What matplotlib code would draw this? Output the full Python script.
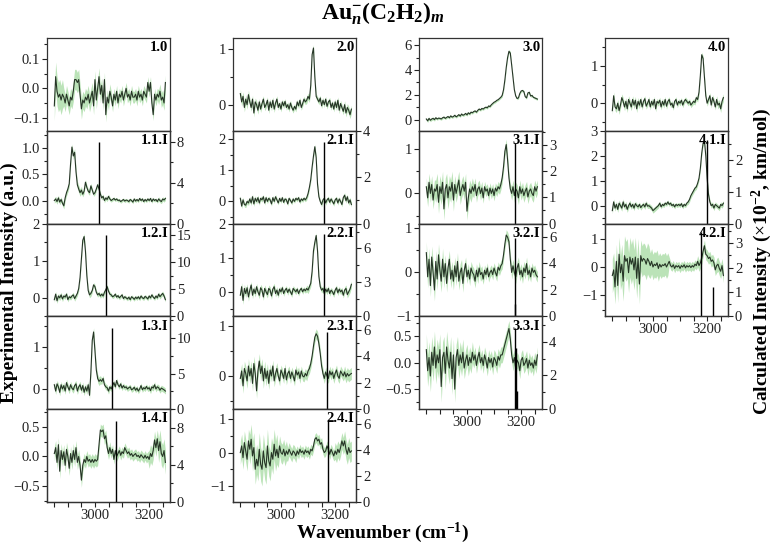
import numpy as np
import matplotlib.pyplot as plt
from matplotlib.ticker import MultipleLocator

plt.rcParams['font.family'] = 'Liberation Serif'
plt.rcParams['mathtext.fontset'] = 'custom'
plt.rcParams['mathtext.rm'] = 'Liberation Serif'
plt.rcParams['mathtext.bf'] = 'Liberation Serif:bold'
plt.rcParams['mathtext.it'] = 'Liberation Serif:italic:bold'

# wavenumber grid of the measured spectra (cm-1)
wn = np.arange(2850, 3261, 5)

# experimental spectra (mean) and error band half-widths (one value per 35 cm-1 segment)
s10 = [-0.06, 0.04, -0.01, -0.03, -0.02, -0.04, -0.02,
       -0.03, -0.05, -0.02, -0.04, -0.06, -0.03, -0.04,
       -0.01, 0.03, 0.03, 0.02, 0.03, -0.02, -0.07,
       -0.04, -0.05, -0.03, -0.04, -0.02, -0.05, -0.03,
       -0.01, -0.06, 0.03, -0.04, 0.00, 0.04, -0.02,
       0.01, -0.05, 0.03, -0.09, -0.03, -0.05, -0.01,
       -0.03, -0.06, -0.02, -0.04, -0.01, -0.05, -0.02,
       -0.03, -0.01, -0.04, -0.02, 0.00, -0.03, -0.02,
       -0.04, -0.01, -0.03, -0.03, -0.02, -0.04, -0.01,
       -0.03, -0.02, -0.04, -0.01, -0.02, -0.03, 0.02,
       -0.01, 0.02, -0.05, -0.09, -0.02, -0.04, -0.02,
       -0.03, -0.01, -0.04, -0.03, -0.05, 0.02]
e10 = [0.05, 0.03, 0.035, 0.03, 0.03, 0.025, 0.02, 0.02, 0.02, 0.02, 0.02, 0.025]

s11 = [0.00, 0.03, -0.02, 0.05, -0.03, 0.02, -0.05,
       -0.10, 0.05, 0.15, 0.22, 0.32, 0.70, 1.02,
       0.85, 0.92, 0.55, 0.30, 0.22, 0.15, 0.20,
       0.12, 0.18, 0.35, 0.25, 0.18, 0.15, 0.28,
       0.20, 0.12, 0.15, 0.22, 0.30, 0.22, 0.12,
       0.05, 0.08, 0.00, 0.05, 0.02, 0.08, 0.03,
       0.00, 0.02, 0.04, 0.01, 0.03, 0.00, 0.01,
       -0.02, 0.00, 0.02, -0.01, 0.01, 0.00, -0.02,
       0.02, 0.00, -0.03, 0.03, -0.01, 0.02, -0.01,
       0.04, 0.00, 0.03, -0.02, 0.02, -0.01, 0.03,
       0.00, 0.04, -0.02, 0.03, 0.00, 0.02, -0.02,
       0.03, 0.00, -0.02, 0.03, 0.01, 0.04]
e11 = [0.05, 0.06, 0.07, 0.05, 0.04, 0.04, 0.03, 0.03, 0.03, 0.03, 0.03, 0.04]

s12 = [-0.05, 0.10, -0.08, 0.05, 0.00, 0.08, -0.03,
       0.05, 0.02, 0.10, -0.05, 0.03, 0.00, 0.05,
       0.08, -0.02, 0.05, 0.12, 0.25, 0.55, 1.05,
       1.55, 1.65, 1.25, 0.60, 0.20, 0.08, 0.12,
       0.20, 0.35, 0.30, 0.15, 0.08, 0.12, 0.05,
       0.10, 0.05, 0.15, 0.22, 0.30, 0.18, 0.10,
       0.08, 0.03, 0.05, 0.10, 0.02, 0.06, 0.00,
       0.04, 0.08, -0.02, 0.03, 0.00, -0.03, 0.02,
       -0.05, 0.03, 0.00, -0.04, 0.02, -0.02, 0.03,
       -0.03, 0.05, 0.00, -0.02, 0.04, 0.01, -0.03,
       0.05, 0.00, 0.08, 0.02, -0.02, 0.05, 0.00,
       0.10, 0.03, 0.08, 0.12, 0.05, -0.05]
e12 = [0.07, 0.06, 0.07, 0.08, 0.06, 0.06, 0.05, 0.05, 0.05, 0.05, 0.05, 0.06]

s13 = [0.10, -0.05, 0.12, 0.05, -0.08, 0.10, 0.00,
       0.08, -0.05, 0.15, 0.05, -0.03, 0.10, 0.02,
       -0.02, 0.08, 0.12, -0.05, 0.05, 0.10, -0.03,
       0.08, -0.08, 0.05, -0.05, 0.10, -0.15, 0.40,
       1.15, 1.35, 0.90, 0.45, 0.25, 0.18, 0.22,
       0.18, 0.25, 0.10, 0.05, 0.03, -0.05, 0.05,
       0.00, 0.08, 0.15, 0.05, 0.20, 0.10, 0.05,
       0.12, 0.02, 0.08, 0.03, 0.05, 0.00, 0.03,
       0.05, -0.02, 0.00, 0.04, -0.03, 0.02, -0.05,
       0.00, 0.08, -0.02, 0.03, 0.00, 0.06, 0.00,
       0.03, -0.04, 0.05, 0.02, 0.10, 0.00, 0.05,
       0.03, -0.03, 0.02, 0.00, -0.02, -0.05]
e13 = [0.08, 0.08, 0.08, 0.08, 0.10, 0.07, 0.06, 0.06, 0.06, 0.06, 0.07, 0.07]

s14 = [0.05, 0.15, -0.10, 0.20, -0.25, 0.10, -0.05,
       0.08, -0.15, 0.12, 0.00, -0.20, 0.05, -0.10,
       0.10, -0.05, 0.15, -0.10, 0.00, -0.15, -0.40,
       -0.15, -0.05, -0.10, 0.00, -0.08, -0.05, -0.10,
       -0.05, -0.10, -0.05, -0.08, -0.05, 0.20, 0.45,
       0.42, 0.45, 0.30, 0.35, 0.15, 0.05, 0.15,
       0.05, 0.12, -0.05, 0.10, 0.00, 0.05, 0.10,
       0.02, 0.08, 0.05, 0.15, 0.10, 0.05, 0.08,
       0.02, 0.05, 0.00, 0.03, 0.05, 0.00, 0.02,
       -0.02, 0.03, 0.00, -0.03, 0.02, -0.03, 0.00,
       -0.05, 0.05, 0.00, 0.10, 0.28, 0.15, 0.30,
       0.10, 0.25, 0.05, 0.00, 0.10, -0.10]
e14 = [0.12, 0.12, 0.12, 0.10, 0.10, 0.10, 0.08, 0.08, 0.08, 0.08, 0.15, 0.20]

s20 = [0.20, 0.05, 0.15, -0.05, 0.10, 0.00, 0.18,
       0.05, -0.05, 0.10, -0.15, 0.05, 0.00, -0.10,
       0.05, -0.08, 0.02, 0.10, -0.05, 0.00, 0.08,
       -0.10, 0.05, -0.05, 0.08, -0.08, 0.03, 0.10,
       -0.05, 0.02, -0.08, 0.05, -0.02, 0.06, -0.05,
       0.00, -0.08, 0.03, -0.05, -0.10, -0.03, -0.08,
       0.05, -0.02, 0.08, -0.05, 0.02, 0.10, 0.05,
       0.08, 0.15, 0.10, 0.35, 0.90, 1.02, 0.50,
       0.15, 0.10, 0.05, 0.12, -0.02, 0.08, 0.00,
       0.10, -0.03, 0.05, 0.08, -0.05, 0.03, -0.08,
       0.05, -0.05, 0.08, -0.10, 0.02, -0.05, -0.12,
       0.00, -0.15, -0.05, -0.10, -0.18, -0.08]
e20 = [0.08, 0.07, 0.06, 0.06, 0.05, 0.05, 0.05, 0.06, 0.05, 0.05, 0.06, 0.07]

s21 = [0.10, -0.15, 0.05, -0.10, -0.12, 0.00, -0.05,
       0.08, -0.05, 0.15, -0.08, 0.10, 0.00, 0.12,
       -0.05, 0.10, 0.05, 0.15, -0.05, 0.12, 0.00,
       0.10, 0.05, -0.08, 0.12, 0.00, 0.15, 0.05,
       -0.05, 0.10, 0.00, 0.12, -0.03, 0.08, 0.05,
       -0.08, 0.10, 0.03, -0.05, 0.08, 0.00, 0.10,
       0.05, 0.12, -0.02, 0.08, 0.03, 0.10, 0.05,
       0.12, 0.25, 0.45, 0.70, 1.10, 1.45, 1.75,
       1.40, 0.55, 0.15, 0.00, -0.10, 0.05, 0.10,
       -0.05, 0.05, 0.10, -0.03, 0.08, 0.00, -0.08,
       0.05, 0.10, -0.05, 0.08, 0.00, -0.10, 0.12,
       0.20, 0.02, 0.15, -0.05, 0.05, -0.10]
e21 = [0.08, 0.08, 0.07, 0.07, 0.06, 0.06, 0.06, 0.08, 0.07, 0.07, 0.07, 0.08]

s22 = [-0.10, 0.15, -0.25, 0.10, -0.05, 0.12, -0.15,
       0.05, 0.20, -0.10, 0.08, -0.05, 0.15, 0.00,
       -0.10, 0.12, 0.05, -0.15, 0.10, 0.00, -0.08,
       0.10, 0.05, -0.12, 0.08, 0.15, -0.05, 0.05,
       -0.10, 0.08, 0.00, 0.12, -0.05, 0.05, 0.10,
       -0.02, 0.08, 0.00, -0.08, 0.10, 0.05, 0.00,
       0.08, -0.05, 0.05, 0.10, 0.00, 0.08, 0.03,
       0.10, 0.05, 0.15, 0.25, 0.60, 1.20, 1.45,
       1.65, 1.20, 0.45, 0.15, 0.05, 0.10, -0.05,
       0.08, 0.00, 0.10, -0.05, 0.05, 0.00, -0.08,
       0.05, 0.12, -0.03, 0.08, 0.00, 0.05, -0.10,
       0.05, 0.10, -0.08, 0.00, 0.08, 0.22]
e22 = [0.12, 0.10, 0.10, 0.10, 0.08, 0.08, 0.07, 0.10, 0.08, 0.08, 0.08, 0.10]

s23 = [-0.05, 0.10, -0.20, 0.15, 0.05, -0.10, 0.20,
       0.00, 0.15, -0.15, 0.25, 0.05, -0.30, 0.10,
       0.30, 0.05, 0.20, -0.10, 0.15, -0.05, 0.10,
       -0.15, 0.12, 0.00, 0.20, -0.10, 0.05, 0.15,
       0.00, -0.10, 0.12, 0.05, -0.05, 0.15, -0.08,
       0.05, 0.10, -0.05, 0.08, 0.00, -0.10, 0.12,
       0.02, 0.08, -0.05, 0.10, 0.00, -0.02, 0.05,
       0.00, 0.10, 0.15, 0.25, 0.40, 0.60, 0.78,
       0.85, 0.80, 0.65, 0.45, 0.20, 0.05, -0.05,
       0.08, 0.00, -0.05, 0.10, 0.02, 0.08, -0.05,
       0.05, 0.12, 0.00, -0.05, 0.10, 0.05, 0.00,
       0.08, -0.02, 0.05, 0.00, 0.03, 0.05]
e23 = [0.15, 0.15, 0.15, 0.12, 0.10, 0.10, 0.10, 0.10, 0.10, 0.10, 0.10, 0.12]

s24 = [0.00, 0.20, -0.15, 0.30, 0.05, -0.20, 0.35,
       0.10, 0.40, -0.10, 0.15, -0.50, -0.20, -0.40,
       0.10, -0.35, -0.50, 0.05, -0.30, -0.45, 0.20,
       -0.25, -0.40, 0.00, -0.20, 0.25, -0.10, 0.10,
       -0.15, 0.20, 0.00, -0.05, 0.10, -0.10, 0.05,
       -0.05, 0.10, 0.00, -0.08, 0.05, 0.00, -0.10,
       0.05, -0.05, 0.10, 0.00, 0.05, -0.05, 0.08,
       0.00, 0.05, -0.05, 0.10, 0.05, 0.20, 0.40,
       0.45, 0.35, 0.40, 0.25, 0.30, 0.10, 0.00,
       0.05, 0.20, 0.10, -0.05, 0.10, 0.00, -0.10,
       0.05, -0.05, 0.10, 0.00, 0.15, 0.35, 0.20,
       0.35, 0.10, -0.05, 0.15, 0.00, 0.05]
e24 = [0.35, 0.45, 0.50, 0.45, 0.30, 0.20, 0.15, 0.15, 0.15, 0.15, 0.25, 0.30]

s30 = [0.05, -0.10, 0.10, -0.05, 0.05, 0.10, 0.00,
       0.15, 0.05, 0.12, 0.10, 0.05, 0.15, 0.20,
       0.10, 0.18, 0.25, 0.15, 0.30, 0.20, 0.25,
       0.35, 0.22, 0.30, 0.40, 0.28, 0.45, 0.35,
       0.40, 0.50, 0.38, 0.55, 0.45, 0.60, 0.55,
       0.65, 0.70, 0.60, 0.75, 0.85, 0.78, 0.90,
       0.85, 0.95, 1.00, 0.95, 1.10, 1.05, 1.20,
       1.30, 1.40, 1.45, 1.55, 1.60, 1.70, 1.80,
       1.95, 2.40, 3.20, 4.20, 5.00, 5.50, 5.35,
       4.40, 3.40, 2.40, 1.90, 1.70, 1.75, 2.10,
       2.30, 2.35, 2.25, 1.85, 1.75, 2.15, 2.20,
       1.90, 1.95, 1.80, 1.75, 1.70, 1.65]
e30 = [0.12, 0.10, 0.10, 0.10, 0.10, 0.10, 0.10, 0.10, 0.15, 0.10, 0.10, 0.10]

s31 = [0.15, -0.10, 0.25, 0.00, 0.20, -0.15, 0.10,
       0.05, 0.20, -0.20, 0.15, 0.00, 0.25, -0.35,
       0.10, 0.20, -0.10, 0.15, 0.05, 0.25, -0.15,
       0.20, 0.00, 0.15, 0.30, -0.05, 0.10, 0.20,
       0.05, 0.25, -0.40, -0.10, 0.10, 0.00, 0.15,
       0.05, 0.20, -0.05, 0.10, 0.15, 0.00, 0.12,
       -0.10, 0.15, 0.05, 0.10, -0.05, 0.12, 0.00,
       0.10, -0.05, 0.12, 0.05, 0.15, 0.10, 0.20,
       0.35, 0.60, 0.95, 1.10, 0.75, 0.35, 0.10,
       0.00, 0.15, -0.05, 0.10, 0.05, -0.10, 0.15,
       0.00, 0.10, -0.05, 0.05, 0.12, -0.08, 0.05,
       0.10, 0.00, -0.05, 0.15, 0.05, 0.15]
e31 = [0.20, 0.25, 0.25, 0.20, 0.20, 0.15, 0.12, 0.12, 0.12, 0.15, 0.15, 0.15]

s32 = [0.45, -0.10, 0.30, -0.30, 0.35, 0.00, -0.40,
       0.25, -0.15, 0.40, 0.05, -0.20, 0.30, -0.10,
       0.20, -0.25, 0.10, 0.30, -0.15, 0.05, -0.20,
       0.15, -0.10, 0.25, -0.20, 0.00, 0.10, -0.25,
       0.05, 0.20, -0.10, 0.05, -0.15, 0.10, 0.00,
       -0.05, -0.20, 0.05, -0.10, 0.10, -0.05, 0.00,
       -0.15, 0.05, -0.05, 0.10, -0.10, 0.00, 0.05,
       -0.05, 0.10, 0.00, -0.08, 0.12, 0.05, 0.15,
       0.20, 0.40, 0.65, 0.85, 0.80, 0.70, 0.30,
       0.00, 0.15, 0.00, -0.10, 0.10, 0.20, -0.05,
       0.05, -0.10, 0.10, 0.00, 0.20, -0.05, 0.05,
       -0.10, 0.10, 0.00, 0.05, -0.05, -0.10]
e32 = [0.25, 0.25, 0.20, 0.20, 0.15, 0.15, 0.12, 0.12, 0.12, 0.15, 0.15, 0.12]

s33 = [0.25, -0.15, 0.10, -0.25, 0.20, -0.05, 0.30,
       -0.10, 0.15, 0.00, 0.25, -0.45, 0.10, 0.20,
       -0.20, 0.30, 0.05, -0.10, 0.20, -0.30, 0.15,
       -0.50, 0.10, 0.25, -0.05, 0.15, 0.00, 0.20,
       -0.10, 0.05, 0.15, -0.05, 0.10, 0.00, 0.20,
       0.05, 0.15, -0.05, 0.10, 0.20, 0.00, 0.10,
       -0.05, 0.15, 0.05, -0.10, 0.10, 0.00, 0.08,
       -0.08, 0.10, 0.05, -0.05, 0.12, 0.05, 0.15,
       0.15, 0.25, 0.35, 0.45, 0.55, 0.65, 0.45,
       0.15, 0.00, 0.10, -0.10, 0.05, 0.00, -0.15,
       0.05, 0.10, -0.05, 0.00, 0.08, -0.10, 0.05,
       -0.05, 0.00, -0.10, 0.05, -0.05, 0.15]
e33 = [0.30, 0.30, 0.30, 0.25, 0.20, 0.15, 0.15, 0.15, 0.15, 0.15, 0.15, 0.15]

s40 = [-0.20, 0.20, -0.10, -0.15, 0.00, -0.20, -0.05,
       0.15, 0.05, -0.10, 0.05, -0.15, 0.10, 0.00,
       -0.10, 0.10, -0.05, 0.08, -0.15, 0.05, -0.05,
       0.10, -0.10, 0.05, 0.12, -0.08, 0.00, 0.10,
       -0.10, 0.05, -0.05, 0.10, -0.15, 0.05, 0.00,
       0.08, -0.10, 0.05, -0.05, 0.10, -0.08, 0.05,
       0.10, -0.05, 0.00, -0.12, 0.05, 0.10, -0.05,
       0.05, 0.00, 0.08, -0.05, 0.05, 0.10, 0.05,
       0.00, 0.05, -0.05, 0.00, 0.05, 0.02, 0.15,
       0.10, 0.30, 0.75, 1.30, 1.20, 0.70, 0.20,
       0.00, 0.10, 0.20, -0.05, 0.15, 0.05, -0.10,
       0.10, -0.05, 0.00, -0.15, 0.05, 0.15]
e40 = [0.10, 0.10, 0.10, 0.08, 0.08, 0.08, 0.07, 0.07, 0.07, 0.07, 0.08, 0.10]

s41 = [-0.20, 0.15, -0.10, 0.05, -0.15, 0.10, 0.00,
       -0.10, 0.15, -0.05, 0.05, -0.15, 0.00, 0.10,
       -0.05, 0.05, -0.10, 0.08, 0.00, -0.05, 0.05,
       -0.08, 0.00, 0.05, -0.05, 0.10, -0.02, 0.00,
       -0.05, -0.10, -0.20, -0.15, -0.10, -0.05, 0.00,
       0.10, -0.05, 0.05, 0.00, 0.10, 0.05, 0.15,
       0.05, 0.10, 0.00, 0.05, -0.05, 0.05, 0.00,
       0.05, 0.00, 0.08, -0.05, 0.05, 0.00, 0.10,
       0.15, 0.25, 0.40, 0.50, 0.60, 0.70, 0.75,
       0.90, 1.10, 1.50, 2.10, 2.50, 2.60, 2.00,
       1.10, 0.45, 0.15, 0.00, 0.05, -0.10, 0.05,
       0.00, -0.05, -0.10, 0.05, 0.00, 0.10]
e41 = [0.12, 0.12, 0.10, 0.10, 0.10, 0.08, 0.08, 0.08, 0.10, 0.10, 0.10, 0.10]

s42 = [-0.30, -0.10, -0.70, 0.20, -0.65, 0.45, -0.20,
       0.10, -0.50, 0.40, 0.20, 0.30, -0.20, 0.35,
       0.10, 0.30, -0.10, 0.35, -0.40, 0.30, -0.60,
       0.40, 0.20, 0.30, 0.25, 0.10, 0.30, 0.20,
       0.05, 0.20, 0.00, 0.10, 0.05, 0.15, -0.05,
       0.10, 0.00, 0.08, 0.05, 0.12, 0.00, 0.10,
       0.20, 0.05, 0.00, 0.08, -0.05, 0.05, 0.00,
       0.05, -0.05, 0.05, 0.00, 0.08, -0.03, 0.05,
       0.00, 0.05, -0.02, 0.05, 0.00, 0.10, 0.05,
       0.20, 0.05, 0.15, 0.30, 0.55, 0.75, 0.45,
       0.40, 0.30, 0.35, 0.20, 0.25, 0.15, -0.10,
       0.05, 0.10, -0.05, -0.15, 0.05, -0.30]
e42 = [0.60, 0.70, 0.70, 0.55, 0.45, 0.40, 0.15, 0.15, 0.15, 0.20, 0.20, 0.25]

# calculated stick spectra: positions (cm-1) and intensities (x10^-2 km/mol)
k11_pos, k11_int = [3015], [8.0]
k12_pos, k12_int = [3042], [15.0]
k13_pos, k13_int = [3063], [11.4]
k14_pos, k14_int = [3079], [8.75]
k21_pos, k21_int = [3158], [3.5]
k22_pos, k22_int = [3160], [7.3]
k23_pos, k23_int = [3169], [5.8]
k24_pos, k24_int = [3175], [6.3]
k31_pos, k31_int = [3177], [3.07]
k32_pos, k32_int = [3177, 3179], [5.9, 0.9]
k33_pos, k33_int = [3179, 3182, 3184], [4.8, 3.6, 1.1]
k41_pos, k41_int = [3198], [2.6]
k42_pos, k42_int = [3178, 3221], [3.44, 1.2]

# col, row, label, spectrum, error, ylim, yticks, yminor, sticks, right ylim, right ticks, right minor
panels = [
    (0, 0, '1.0', s10, e10, (-0.145, 0.172), [-0.1, 0, 0.1], 0.05, None, None, None, None),
    (0, 1, '1.1.I', s11, e11, (-0.44, 1.33), [0, 0.5, 1.0], 0.25, (k11_pos, k11_int), (0, 9.1), [0, 4, 8], 2),
    (0, 2, '1.2.I', s12, e12, (-0.5, 2.0), [0, 1, 2], 0.5, (k12_pos, k12_int), (0, 17.2), [0, 5, 10, 15], 2.5),
    (0, 3, '1.3.I', s13, e13, (-0.48, 1.72), [0, 1], 0.5, (k13_pos, k13_int), (0, 13), [0, 5, 10], 2.5),
    (0, 4, '1.4.I', s14, e14, (-0.77, 0.8), [-0.5, 0, 0.5], 0.25, (k14_pos, k14_int), (0, 10), [0, 4, 8], 2),
    (1, 0, '2.0', s20, e20, (-0.47, 1.2), [0, 1], 0.5, None, None, None, None),
    (1, 1, '2.1.I', s21, e21, (-0.71, 2.26), [0, 1, 2], 0.5, (k21_pos, k21_int), (0, 4), [0, 2, 4], 1),
    (1, 2, '2.2.I', s22, e22, (-0.72, 2.0), [0, 1, 2], 0.5, (k22_pos, k22_int), (0, 8.2), [0, 3, 6], 1.5),
    (1, 3, '2.3.I', s23, e23, (-0.67, 1.2), [0, 1], 0.5, (k23_pos, k23_int), (0, 7), [0, 2, 4, 6], 1),
    (1, 4, '2.4.I', s24, e24, (-1.48, 1.3), [-1, 0, 1], 0.5, (k24_pos, k24_int), (0, 7.15), [0, 2, 4, 6], 1),
    (2, 0, '3.0', s30, e30, (-0.9, 6.57), [0, 2, 4, 6], 1, None, None, None, None),
    (2, 1, '3.1.I', s31, e31, (-0.68, 1.41), [0, 1], 0.5, (k31_pos, k31_int), (0, 3.54), [0, 1, 2, 3], 0.5),
    (2, 2, '3.2.I', s32, e32, (-1.0, 1.11), [-1, 0, 1], 0.5, (k32_pos, k32_int), (0, 7.0), [0, 2, 4, 6], 1),
    (2, 3, '3.3.I', s33, e33, (-0.88, 0.88), [-0.5, 0, 0.5], 0.25, (k33_pos, k33_int), (0, 5.5), [0, 2, 4], 1),
    (3, 0, '4.0', s40, e40, (-0.74, 1.75), [0, 1], 0.5, None, None, None, None),
    (3, 1, '4.1.I', s41, e41, (-0.72, 3.0), [0, 1, 2, 3], 0.5, (k41_pos, k41_int), (0, 2.9), [0, 1, 2], 0.5),
    (3, 2, '4.2.I', s42, e42, (-1.74, 1.53), [-1, 0, 1], 0.5, (k42_pos, k42_int), (0, 3.8), [0, 1, 2, 3], 0.5),
]
rows_in_col = {0: 5, 1: 5, 2: 4, 3: 3}

W, H = 779, 548
fig = plt.figure(figsize=(W / 100, H / 100), dpi=100)

ax_left0, ax_dx, ax_w = 47, 186, 123
ax_top0, ax_h = 38, 92.8

def style_ticks(a):
    a.tick_params(which='both', direction='out', width=0.8, labelsize=10.5, pad=1.5, colors='#222222')
    a.tick_params(which='major', length=3.5)
    a.tick_params(which='minor', length=2.5)

for col, row, label, y, err, ylim, yt, ymin, sticks, rlim, rt, rmin in panels:
    top = ax_top0 + row * ax_h
    ax = fig.add_axes([(ax_left0 + col * ax_dx) / W, 1 - (top + ax_h) / H, ax_w / W, ax_h / H])
    y = np.array(y)
    e = np.repeat(err, 7)[:len(y)]
    ax.fill_between(wn, y - e, y + e, color='#8fd18a', alpha=0.6, lw=0)
    ax.plot(wn, y, color='#263526', lw=0.8)
    ax.set_xlim(2823, 3277)
    ax.set_ylim(*ylim)
    ax.set_xticks([3000, 3200])
    ax.xaxis.set_minor_locator(MultipleLocator(50))
    ax.set_yticks(yt)
    ax.yaxis.set_minor_locator(MultipleLocator(ymin))
    style_ticks(ax)
    ax.tick_params(axis='x', which='minor', length=3.5)
    if row != rows_in_col[col] - 1:
        ax.tick_params(axis='x', labelbottom=False)
    for sp in ax.spines.values():
        sp.set_linewidth(0.9)
        sp.set_color('#333333')
    ax.text(0.985, 0.965, label, transform=ax.transAxes, ha='right', va='top',
            fontsize=10.5, fontweight='bold', zorder=5)
    if sticks is not None:
        rax = ax.twinx()
        rax.vlines(sticks[0], 0, sticks[1], color='black', lw=1.0)
        rax.set_ylim(*rlim)
        rax.set_yticks(rt)
        rax.yaxis.set_minor_locator(MultipleLocator(rmin))
        style_ticks(rax)
        for sp in rax.spines.values():
            sp.set_linewidth(0.9)
            sp.set_color('#333333')

fig.text(383 / W, 1 - 14 / H,
         r'$\mathbf{Au}_{\mathit{n}}^{\mathbf{-}}\mathbf{(C}_{\mathbf{2}}\mathbf{H}_{\mathbf{2}}\mathbf{)}_{\mathit{m}}$',
         ha='center', va='center', fontsize=17)
fig.text(9 / W, 1 - 283 / H, 'Experimental Intensity (a.u.)', rotation=90,
         ha='center', va='center', fontsize=14, fontweight='bold')
fig.text(762 / W, 1 - 262 / H, r'Calculated Intensity ($\times$10$^{\mathbf{-2}}$, km/mol)', rotation=90,
         ha='center', va='center', fontsize=14, fontweight='bold')
fig.text(382 / W, 3 / H, r'Wavenumber (cm$^{\mathbf{-1}}$)', ha='center', va='bottom',
         fontsize=14, fontweight='bold')

fig.savefig('out.png', dpi=100)
